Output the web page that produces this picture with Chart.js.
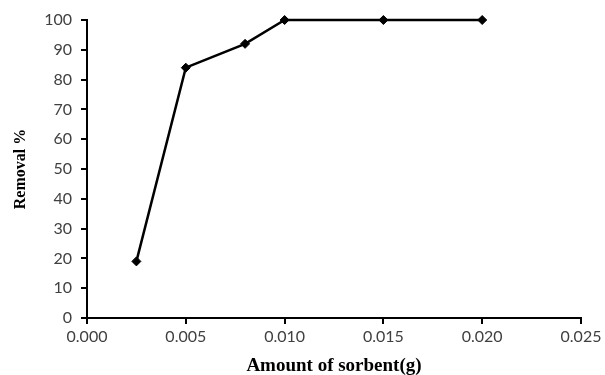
<!DOCTYPE html>
<html>
<head>
<meta charset="utf-8">
<script src="https://cdn.jsdelivr.net/npm/chart.js"></script>
<style>
  html, body { margin: 0; padding: 0; background: #fff; }
  #wrap { width: 605px; height: 375px; }
</style>
</head>
<body>
<div id="wrap"><canvas id="removalChart" width="605" height="375"></canvas></div>
<script>
// Sorbent amount (g) vs removal efficiency (%)
const sorbentAmounts = [0.0025, 0.005, 0.008, 0.010, 0.015, 0.020];
const removalPercent = [19, 84, 92, 100, 100, 100];

const xTickValues = [0, 0.005, 0.010, 0.015, 0.020, 0.025];
const yTickValues = [0, 10, 20, 30, 40, 50, 60, 70, 80, 90, 100];

const points = sorbentAmounts.map((x, i) => ({ x: x, y: removalPercent[i] }));

const tickFont = { family: 'Lato, "Open Sans", sans-serif', size: 16 };
const serif = '"Liberation Serif", "Times New Roman", serif';

new Chart(document.getElementById('removalChart').getContext('2d'), {
  type: 'line',
  data: {
    datasets: [{
      label: 'Removal %',
      data: points,
      borderColor: '#000',
      backgroundColor: '#000',
      borderWidth: 2.5,
      pointStyle: 'rectRot',
      pointRadius: 4.5,
      pointBorderWidth: 1,
      tension: 0,
      fill: false,
      clip: false
    }]
  },
  options: {
    responsive: false,
    animation: false,
    layout: { padding: { top: 20, right: 24, left: 0, bottom: 0 } },
    plugins: {
      legend: { display: false },
      tooltip: { enabled: false }
    },
    scales: {
      x: {
        type: 'linear',
        min: 0,
        max: 0.025,
        afterBuildTicks: axis => { axis.ticks = xTickValues.map(v => ({ value: v })); },
        afterFit: axis => { axis.height = 57; },
        border: { color: '#000', width: 2 },
        grid: { drawOnChartArea: false, color: '#000', lineWidth: 2, tickLength: 6 },
        ticks: {
          color: '#404040',
          font: tickFont,
          padding: 3,
          callback: v => v.toFixed(3)
        },
        title: {
          display: true,
          text: 'Amount of sorbent(g)',
          color: '#000',
          font: { family: serif, size: 19, weight: 'bold' },
          padding: { top: 4, bottom: -2 }
        }
      },
      y: {
        min: 0,
        max: 100,
        afterBuildTicks: axis => { axis.ticks = yTickValues.map(v => ({ value: v })); },
        afterFit: axis => { axis.width = 87; },
        border: { color: '#000', width: 2 },
        grid: { drawOnChartArea: false, color: '#000', lineWidth: 2, tickLength: 6 },
        ticks: {
          color: '#404040',
          font: tickFont,
          padding: 9
        },
        title: {
          display: true,
          text: 'Removal %',
          color: '#000',
          font: { family: serif, size: 16, weight: 'bold' },
          padding: { top: 11, bottom: 0 }
        }
      }
    }
  }
});
</script>
</body>
</html>
